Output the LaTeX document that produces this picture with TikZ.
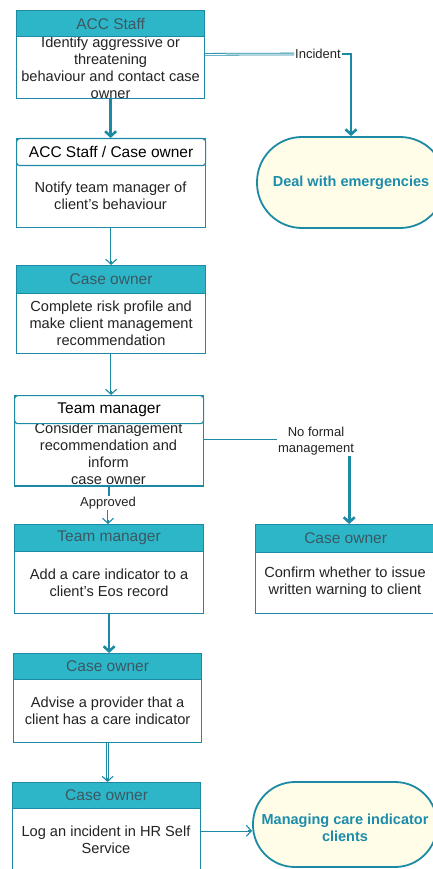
\documentclass[tikz,border=0pt]{standalone}
\usepackage{fontspec}
\setmainfont{Liberation Sans}
\usetikzlibrary{arrows.meta,calc}
\definecolor{tealc}{RGB}{28,138,165}
\definecolor{headfill}{RGB}{45,182,200}
\definecolor{headtext}{RGB}{60,88,98}
\definecolor{termfill}{RGB}{255,253,232}
\definecolor{termtext}{RGB}{28,140,172}
\definecolor{bodytext}{RGB}{35,35,35}
\tikzset{
  boxbody/.style={draw=tealc, line width=1.2pt, fill=white, inner sep=0pt, anchor=north west},
  headteal/.style={draw=tealc, line width=1.2pt, fill=headfill, inner sep=0pt, anchor=north west,
     text=headtext, font=\fontsize{15.5}{18}\selectfont},
  headwhite/.style={draw=tealc, line width=1.2pt, fill=white, rounded corners=3pt, inner sep=0pt, anchor=north west,
     text=black, font=\fontsize{15.5}{18}\selectfont},
  bodytxt/.style={align=center, text=bodytext, inner sep=0pt, font=\fontsize{14.6}{17}\selectfont},
  lbl/.style={align=center, text=bodytext, inner sep=1pt, fill=white, font=\fontsize{13}{16}\selectfont},
  term/.style={draw=tealc, line width=1.8pt, fill=termfill, text=termtext, align=center, inner sep=0pt,
     font=\fontsize{14.5}{17}\selectfont\bfseries},
  dbl/.style={draw=tealc, line width=2.6pt, postaction={draw=white, line width=1.0pt, -}},
  thk/.style={draw=tealc, line width=2.6pt},
  dblarrow/.style={draw=tealc, line width=2.6pt, -{Straight Barb[length=5pt,width=11pt,line width=1.1pt]},
     postaction={draw=white, line width=1.0pt, -, shorten >=4pt}},
  thkarrow/.style={thk, -{Straight Barb[length=5pt,width=11pt]}},
}
\begin{document}
\begin{tikzpicture}[x=1pt,y=-1pt]
\useasboundingbox (0,0) rectangle (432,869);
\fill[white] (0,0) rectangle (432,869);

% Box 1
\node[boxbody, minimum width=188pt, minimum height=62pt] (b1) at (16,36) {};
\node[bodytxt] (t1) at (b1.center) {Identify aggressive or\\threatening\\behaviour and contact case\\owner};
\node[headteal, minimum width=188pt, minimum height=26pt] (h1) at (16,10) {ACC Staff};

% Box 2
\node[boxbody, minimum width=189pt, minimum height=89pt] (b2) at (16,138) {};
\node[headwhite, minimum width=189pt, minimum height=27pt] (h2) at (16,138) {ACC Staff / Case owner};
\node[bodytxt] (t2) at (110.5,196) {Notify team manager of\\client's behaviour};

% Box 3
\node[boxbody, minimum width=189pt, minimum height=60pt] (b3) at (16,293) {};
\node[bodytxt] (t3) at (b3.center) {Complete risk profile and\\make client management\\recommendation};
\node[headteal, minimum width=189pt, minimum height=28pt] (h3) at (16,265) {Case owner};

% Box 4
\node[boxbody, minimum width=189pt, minimum height=90pt] (b4) at (14,395) {};
\node[bodytxt] (t4) at (108.5,453.5) {Consider management\\recommendation and\\inform\\case owner};
\node[headwhite, minimum width=189pt, minimum height=28pt] (h4) at (14,395) {Team manager};
\draw[draw=tealc, line width=1.2pt] (b4.south west) -- (b4.south east);

% Box 5
\node[boxbody, minimum width=189pt, minimum height=62pt] (b5) at (14,551) {};
\node[bodytxt] (t5) at (b5.center) {Add a care indicator to a\\client's Eos record};
\node[headteal, minimum width=189pt, minimum height=27pt] (h5) at (14,524) {Team manager};

% Box 6
\node[boxbody, minimum width=180pt, minimum height=61pt] (b6) at (255,552) {};
\node[bodytxt] (t6) at (345,582) {Confirm whether to issue\\written warning to client};
\node[headteal, minimum width=180pt, minimum height=28pt] (h6) at (255,524) {Case owner};

% Box 7
\node[boxbody, minimum width=188pt, minimum height=63pt] (b7) at (13,679) {};
\node[bodytxt] (t7) at (b7.center) {Advise a provider that a\\client has a care indicator};
\node[headteal, minimum width=188pt, minimum height=26pt] (h7) at (13,653) {Case owner};

% Box 8
\node[boxbody, minimum width=188pt, minimum height=66pt] (b8) at (12,808) {};
\node[bodytxt] (t8) at (106,840) {Log an incident in HR Self\\Service};
\node[headteal, minimum width=188pt, minimum height=26pt] (h8) at (12,782) {Case owner};

% Terminators
\node[term, minimum width=188pt, minimum height=91pt, rounded corners=45pt] (e1) at (351,182.5) {};
\node[text=termtext, font=\fontsize{14.5}{17}\selectfont\bfseries, inner sep=0pt] (e1t) at (351,183) {Deal with emergencies};
\node[term, minimum width=184pt, minimum height=85pt, rounded corners=42pt] (e2) at (345,824.5) {};
\node[text=termtext, font=\fontsize{14.5}{16.5}\selectfont\bfseries, align=center, inner sep=0pt] (e2t) at (345,828) {Managing care indicator\\clients};

% Labels
\node[lbl] (inc) at (318,54) {Incident};
\node[lbl, fill=none] (nf) at (316,441) {No formal\\management};
\node[lbl] (ap) at (108,503) {Approved};

% Connectors
\draw[thkarrow] (b1.south) -- (b1.south |- h2.north);
\coordinate (p1) at ($(b1.north east)!0.29!(b1.south east)$);
\draw[dbl] (p1) -- (inc.west);
\draw[thkarrow] (inc.east) -| (e1.north);
\draw[dblarrow] (b2.south) -- (b2.south |- h3.north);
\draw[dblarrow] (b3.south) -- (b3.south |- h4.north);
\draw[dbl] (b4.east |- 0,440) -- (nf.west |- 0,440);
\coordinate (a6) at ($(h6.north west)!0.52!(h6.north east)$);
\draw[thkarrow] (nf.south -| a6) -- (a6);
\draw[thk] (b4.south) -- (b4.south |- ap.north);
\draw[dblarrow] (ap.south) -- (ap.south |- h5.north);
\draw[thkarrow] (b5.south) -- (b5.south |- h7.north);
\draw[dblarrow] (b7.south) -- (b7.south |- h8.north);
\coordinate (p8) at ($(b8.north east)!0.34!(b8.south east)$);
\draw[dblarrow] (p8) -- (p8 -| e2.west);
\end{tikzpicture}
\end{document}
